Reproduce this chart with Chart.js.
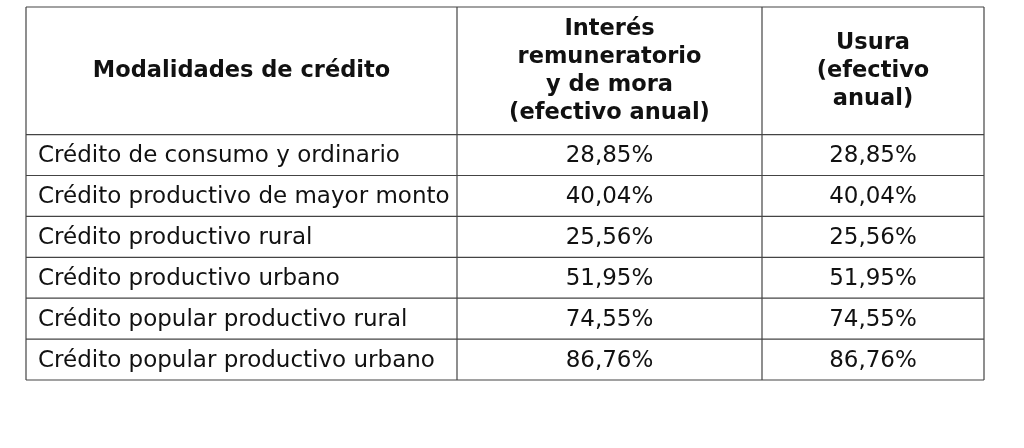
<!DOCTYPE html>
<html><head><meta charset="utf-8">
<script src="https://cdn.jsdelivr.net/npm/chart.js@4"></script>
<style>html,body{margin:0;padding:0;background:#fff}#c{display:block}</style>
</head><body>
<div style="width:1024px;height:448px"><canvas id="c"></canvas></div>
<script>
const headers = [
  ["Modalidades de crédito"],
  ["Interés","remuneratorio","y de mora","(efectivo anual)"],
  ["Usura","(efectivo","anual)"]
];
const categories = [
  "Crédito de consumo y ordinario",
  "Crédito productivo de mayor monto",
  "Crédito productivo rural",
  "Crédito productivo urbano",
  "Crédito popular productivo rural",
  "Crédito popular productivo urbano"
];
const interes = ["28,85%","40,04%","25,56%","51,95%","74,55%","86,76%"];
const usura   = ["28,85%","40,04%","25,56%","51,95%","74,55%","86,76%"];

// layout (table units)
const colEdges = [0, 431, 736, 958];
const headerH = 3.12;
const rowEdges = [0, headerH].concat(categories.map((_, i) => headerH + i + 1));

const tablePlugin = {
  id: 'table',
  afterDraw(chart) {
    const ctx = chart.ctx, X = chart.scales.x, Y = chart.scales.y;
    const px = v => X.getPixelForValue(v), py = v => Y.getPixelForValue(v);
    ctx.save();
    ctx.strokeStyle = '#444'; ctx.lineWidth = 1.2;
    const top = py(0), bot = py(rowEdges[rowEdges.length-1]);
    colEdges.forEach(c => { ctx.beginPath(); ctx.moveTo(px(c), top); ctx.lineTo(px(c), bot); ctx.stroke(); });
    rowEdges.forEach(r => { ctx.beginPath(); ctx.moveTo(px(0), py(r)); ctx.lineTo(px(958), py(r)); ctx.stroke(); });
    ctx.fillStyle = '#111'; ctx.textBaseline = 'middle';
    ctx.font = 'bold 22.5px "DejaVu Sans", Verdana, sans-serif'; ctx.textAlign = 'center';
    headers.forEach((lines, ci) => {
      const cx = (px(colEdges[ci]) + px(colEdges[ci+1])) / 2;
      const cy = (py(0) + py(headerH)) / 2;
      const lh = 28;
      lines.forEach((t, li) => ctx.fillText(t, cx, cy + (li - (lines.length-1)/2) * lh));
    });
    ctx.font = '23px "DejaVu Sans", Verdana, sans-serif';
    categories.forEach((cat, i) => {
      const cy = (py(rowEdges[i+1]) + py(rowEdges[i+2])) / 2 + 1;
      ctx.textAlign = 'left'; ctx.fillText(cat, px(0) + 12, cy);
      ctx.textAlign = 'center';
      ctx.fillText(interes[i], (px(colEdges[1]) + px(colEdges[2])) / 2, cy);
      ctx.fillText(usura[i], (px(colEdges[2]) + px(colEdges[3])) / 2, cy);
    });
    ctx.restore();
  }
};

new Chart(document.getElementById('c'), {
  type: 'scatter',
  data: { datasets: [{ data: [] }] },
  options: {
    responsive: true, maintainAspectRatio: false, animation: false,
    layout: { padding: { left: 26, right: 40, top: 7, bottom: 68 } },
    plugins: { legend: { display: false }, tooltip: { enabled: false } },
    scales: {
      x: { type: 'linear', min: 0, max: 958, display: false },
      y: { type: 'linear', min: 0, max: rowEdges[rowEdges.length-1], reverse: true, display: false }
    }
  },
  plugins: [tablePlugin]
});
</script>
</body></html>
